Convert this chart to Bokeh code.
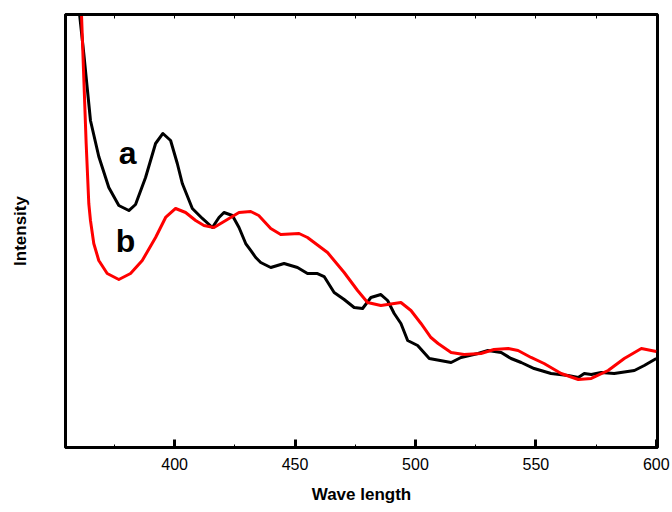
from bokeh.plotting import figure
from bokeh.models import LinearAxis, FixedTicker, Range1d
from bokeh.core.properties import value
from bokeh.embed import file_html
from bokeh.resources import INLINE

# curve a (black)
wl_a = [359.9, 360.50, 362.29, 363.70, 365.07, 368.52, 372.68, 376.84, 381.00, 383.78,
        387.94, 392.10, 395.14, 398.34, 401.12, 403.20, 407.36, 411.52, 415.68,
        418.42, 420.50, 423.99, 426.74, 429.52, 431.60, 433.68, 435.76, 439.92, 445.45,
        451.02, 455.18, 459.33, 462.08, 466.24, 470.40, 474.55, 478.05, 481.50, 485.65,
        488.44, 491.18, 493.97, 496.76, 500.91, 505.74, 514.8, 518.9, 526.0, 530.1,
        535.6, 539.7, 543.9, 549.3, 556.3, 563.4, 567.6, 570.1, 573.0, 577.1, 582.5,
        590.9, 595.0, 600.0]
int_a = [103.0, 100.23, 90.99, 83.14, 75.52, 67.21, 60.05, 55.89, 54.73, 56.12,
         62.36, 70.21, 72.52, 70.90, 65.59, 60.97, 55.20, 52.89, 50.81,
         53.12, 54.27, 53.58, 50.81, 47.11, 45.50, 43.88, 42.73, 41.57, 42.49,
         41.57, 40.18, 40.18, 39.49, 35.80, 34.18, 32.33, 32.10, 34.64, 35.33,
         33.95, 30.95, 28.64, 24.71, 23.56, 20.55, 19.63, 20.79, 21.71, 22.40,
         21.94, 20.55, 19.63, 18.24, 17.09, 16.63, 16.17, 17.09, 16.86, 17.32, 17.09,
         17.78, 18.94, 20.55]

# curve b (red)
wl_b = [361.1, 361.33, 362.29, 363.28, 364.37, 365.07, 366.44, 368.52, 372.02, 376.84,
        381.70, 386.57, 392.10, 396.26, 400.42, 404.57, 408.73, 412.18, 416.34,
        421.21, 426.74, 431.60, 434.93, 439.92, 444.07,
        451.68, 455.18, 463.49, 470.40, 475.97, 480.12, 485.65, 493.97, 498.13, 502.29,
        506.44, 509.4, 514.8, 520.2, 527.2, 532.6, 538.5, 542.6, 548.0, 553.4, 560.5,
        567.6, 573.0, 580.0, 586.7, 593.8, 600.0]
int_b = [106.0, 100.23, 85.45, 70.21, 56.35, 52.42, 47.11, 43.19, 40.18, 38.80,
         40.18, 43.19, 48.50, 53.12, 55.20, 54.27, 52.42, 51.27, 50.81,
         52.42, 54.27, 54.50, 53.58, 50.58, 49.19,
         49.42, 48.50, 45.03, 40.42, 36.26, 33.49, 32.79, 33.49, 31.64, 28.64,
         25.40, 24.02, 21.94, 21.48, 21.71, 22.63, 22.86, 22.40, 20.79, 19.40, 17.09,
         15.70, 15.94, 17.78, 20.55, 22.86, 22.17]

labels = ["a", "b"]
label_x = [380.5, 379.6]
label_y = [67.9, 47.8]

major_ticks = [400, 450, 500, 550, 600]
minor_ticks = [375, 425, 475, 525, 575]
top_ticks = [375, 400, 425, 450, 475, 500, 525, 550, 575, 600]

FONT = "Liberation Sans"

p = figure(width=672, height=512, output_backend="svg", toolbar_location=None,
           x_range=Range1d(354.7, 600.5), y_range=Range1d(0, 100),
           x_axis_location=None, y_axis_location=None,
           min_border_left=65, min_border_right=15, min_border_top=14, min_border_bottom=65)
p.grid.visible = False
p.outline_line_color = "black"
p.outline_line_width = 3
p.background_fill_color = "white"
p.border_fill_color = "white"

p.line(wl_a, int_a, line_color="black", line_width=3, line_join="round")
p.line(wl_b, int_b, line_color="#ff0000", line_width=3, line_join="round")

p.text(x=label_x, y=label_y, text=labels, text_font=value(FONT), text_font_style="bold",
       text_font_size="32px", text_color="black", text_align="center", text_baseline="middle")

xa = LinearAxis(ticker=FixedTicker(ticks=major_ticks, minor_ticks=minor_ticks))
xa.axis_label = "Wave length"
xa.axis_label_text_font = FONT
xa.axis_label_text_font_style = "bold"
xa.axis_label_text_font_size = "17px"
xa.axis_label_text_color = "black"
xa.axis_label_standoff = 12
xa.major_label_text_font = FONT
xa.major_label_text_font_size = "16px"
xa.major_label_text_color = "black"
xa.major_label_standoff = 10
xa.axis_line_width = 3
xa.major_tick_in = 8
xa.major_tick_out = 0
xa.major_tick_line_width = 3
xa.minor_tick_in = 3
xa.minor_tick_out = 0
xa.minor_tick_line_width = 1
p.add_layout(xa, "below")

ta = LinearAxis(ticker=FixedTicker(ticks=top_ticks, minor_ticks=[]))
ta.major_label_text_font_size = "0px"
ta.major_label_text_alpha = 0
ta.major_tick_in = 4
ta.major_tick_out = 0
ta.major_tick_line_width = 1
ta.axis_line_width = 3
p.add_layout(ta, "above")

ya = LinearAxis(ticker=FixedTicker(ticks=[]))
ya.axis_label = "Intensity"
ya.axis_label_text_font = FONT
ya.axis_label_text_font_style = "bold"
ya.axis_label_text_font_size = "17px"
ya.axis_label_text_color = "black"
ya.axis_label_standoff = 36
ya.major_label_text_font_size = "0px"
ya.major_tick_in = 0
ya.major_tick_out = 0
ya.minor_tick_in = 0
ya.minor_tick_out = 0
ya.axis_line_width = 3
p.add_layout(ya, "left")

open("out.html", "w").write(file_html(p, INLINE))
